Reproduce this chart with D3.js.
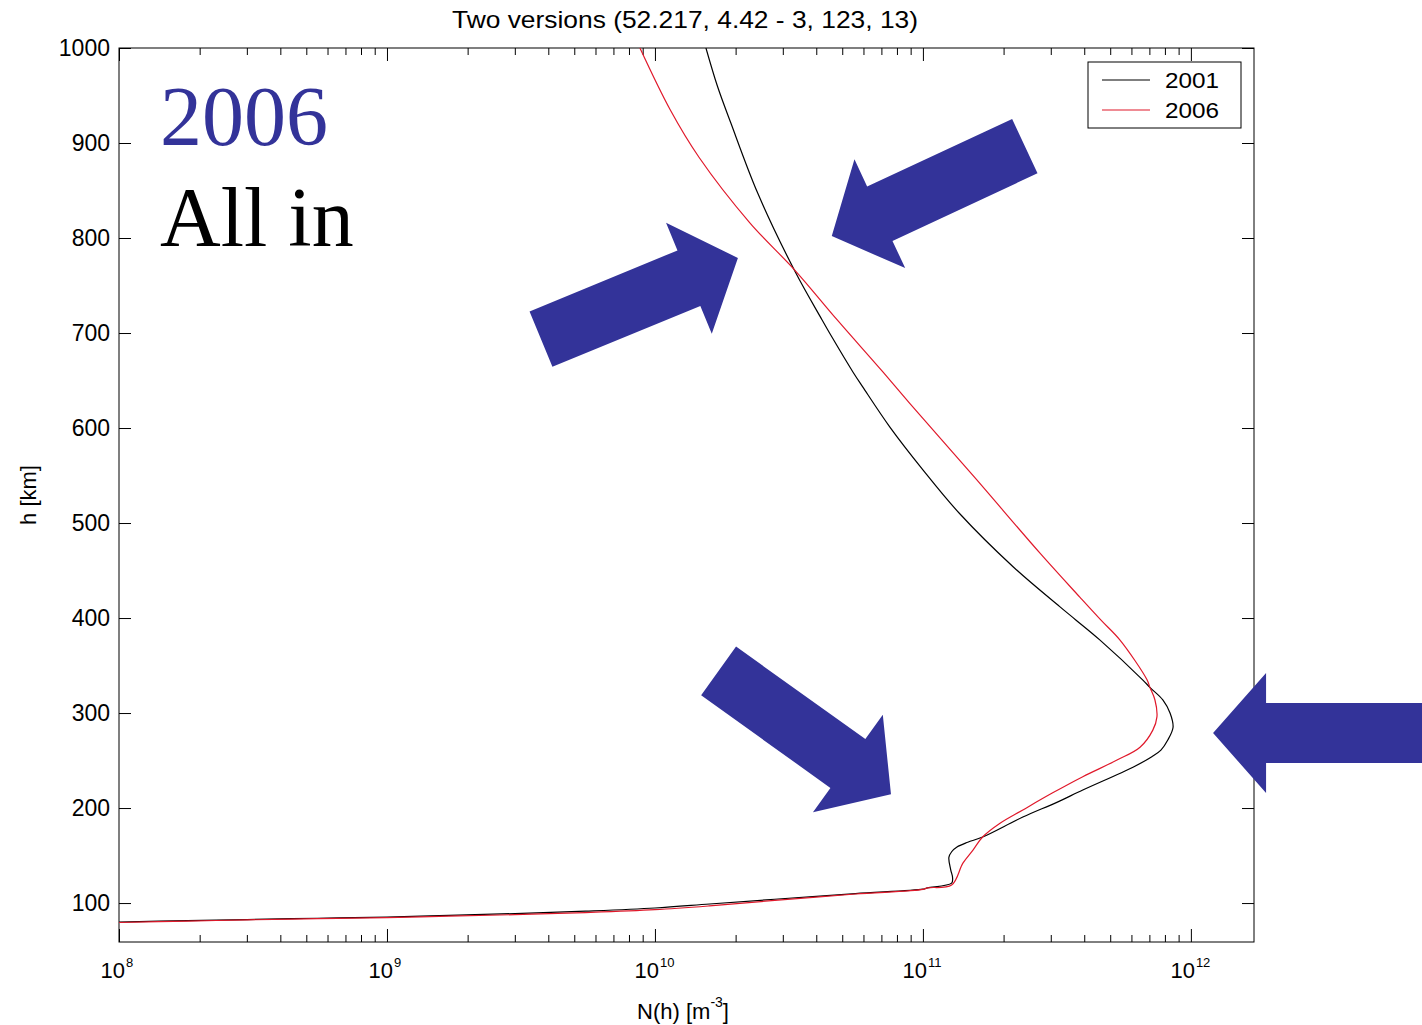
<!DOCTYPE html>
<html>
<head>
<meta charset="utf-8">
<script src="https://cdn.jsdelivr.net/npm/d3@7"></script>
<style>
  body { margin: 0; background: #fff; }
  svg { display: block; }
  text { font-family: "Liberation Sans", Arial, Helvetica, sans-serif; fill: #000; }
</style>
</head>
<body>
<svg id="chart" width="1422" height="1025"></svg>
<script>
// Electron density profiles N(h), two model versions.
// Heights in km, densities in m^-3.
const heights2001 = [80, 81.5, 82.6, 84, 85.2, 87, 88.9, 91.5, 94.8, 99, 104, 110, 114.6, 116, 121, 127, 135, 148, 154, 159, 164, 169.5, 190.5, 206, 219, 243, 254, 261, 271.6, 285, 300, 313.7, 327, 334.7, 377, 398, 412, 454, 510, 556, 601, 643, 659, 696, 714, 765, 847, 921, 960, 1000];
const density2001 = [1.0e8, 1.8e8, 3.0e8, 5.5e8, 1.0e9, 1.7e9, 3.0e9, 5.5e9, 1.0e10, 1.6e10, 2.8e10, 5.6e10, 1.0e11, 1.04e11, 1.28e11, 1.29e11, 1.27e11, 1.25e11, 1.28e11, 1.34e11, 1.47e11, 1.67e11, 2.36e11, 3.16e11, 3.95e11, 6.08e11, 7.15e11, 7.73e11, 8.2e11, 8.58e11, 8.36e11, 7.87e11, 7.03e11, 6.62e11, 4.57e11, 3.72e11, 3.24e11, 2.17e11, 1.37e11, 1.0e11, 7.53e10, 5.97e10, 5.48e10, 4.57e10, 4.2e10, 3.33e10, 2.42e10, 1.92e10, 1.71e10, 1.55e10];

const heights2006 = [79.5, 81, 82.3, 83.5, 84.6, 86.2, 87.8, 90, 93, 97, 102.8, 109.5, 114.3, 116, 119, 142, 156, 169.5, 184, 198, 216, 233, 250.5, 264, 282, 296, 314, 327, 335, 377, 398, 422, 468, 548, 626, 659, 714, 766, 816, 885, 935, 1000];
const density2006 = [1.0e8, 1.8e8, 3.0e8, 5.5e8, 1.0e9, 1.7e9, 3.0e9, 5.5e9, 1.0e10, 1.6e10, 2.8e10, 5.6e10, 1.0e11, 1.04e11, 1.28e11, 1.41e11, 1.54e11, 1.67e11, 1.94e11, 2.36e11, 3.05e11, 3.95e11, 5.30e11, 6.46e11, 7.21e11, 7.47e11, 7.34e11, 7.03e11, 6.86e11, 5.43e11, 4.61e11, 3.85e11, 2.74e11, 1.56e11, 8.93e10, 7.09e10, 4.78e10, 3.33e10, 2.26e10, 1.46e10, 1.14e10, 8.79e9];

const seriesNames = ["2001", "2006"];
const seriesColors = ["#000000", "#e0182a"];

const xDecades = [8, 9, 10, 11, 12];
const yTickValues = [100, 200, 300, 400, 500, 600, 700, 800, 900, 1000];

const titleText = "Two versions (52.217, 4.42 - 3, 123, 13)";
const overlayLines = ["2006", "All in"];
const overlayColors = ["#333399", "#000000"];

// Highlight arrows: tip position in data units, pointing angle (deg, screen), length in px
const arrowTipDensity = [4.57e10, 2.04e10, 7.6e10, 1.21e12];
const arrowTipHeight = [802, 779, 214.4, 279];
const arrowAngle = [155, -22.4, 35.6, 180];
const arrowLength = [213, 213, 212, 270];

// ---------------------------------------------------------------
const W = 1422, H = 1025;
const margin = { left: 119, top: 48, right: 168, bottom: 83 };
const iw = W - margin.left - margin.right;
const ih = H - margin.top - margin.bottom;

const svg = d3.select("#chart");
const g = svg.append("g").attr("transform", `translate(${margin.left},${margin.top})`);

const x = d3.scaleLog().domain([1e8, 1.72e12]).range([0, iw]);
const y = d3.scaleLinear().domain([59, 1000]).range([ih, 0]);

// tick values for the log axis
const majorTicks = xDecades.map(p => Math.pow(10, p));
const minorTicks = [];
xDecades.forEach(p => {
  for (let m = 2; m <= 9; m++) {
    const v = m * Math.pow(10, p);
    if (v <= x.domain()[1]) minorTicks.push(v);
  }
});

function styleAxis(sel) {
  sel.select(".domain").remove();
  sel.selectAll(".tick line").attr("stroke", "#000").attr("stroke-width", 1);
  sel.selectAll(".tick text").remove();
}

// bottom & top axes (ticks pointing inward)
g.append("g").attr("transform", `translate(0,${ih})`)
  .call(d3.axisBottom(x).tickValues(majorTicks).tickSize(-13).tickFormat(""))
  .call(styleAxis);
g.append("g").attr("transform", `translate(0,${ih})`)
  .call(d3.axisBottom(x).tickValues(minorTicks).tickSize(-7).tickFormat(""))
  .call(styleAxis);
g.append("g")
  .call(d3.axisTop(x).tickValues(majorTicks).tickSize(-13).tickFormat(""))
  .call(styleAxis);
g.append("g")
  .call(d3.axisTop(x).tickValues(minorTicks).tickSize(-7).tickFormat(""))
  .call(styleAxis);

// left & right axes
g.append("g")
  .call(d3.axisLeft(y).tickValues(yTickValues).tickSize(-12).tickFormat(""))
  .call(styleAxis);
g.append("g").attr("transform", `translate(${iw},0)`)
  .call(d3.axisRight(y).tickValues(yTickValues).tickSize(-12).tickFormat(""))
  .call(styleAxis);

// frame
g.append("rect").attr("width", iw).attr("height", ih)
  .attr("fill", "none").attr("stroke", "#000").attr("stroke-width", 1);

// y tick labels
g.selectAll("text.ylab").data(yTickValues).join("text")
  .attr("class", "ylab")
  .attr("x", -9).attr("y", d => y(d)).attr("dy", "0.36em")
  .attr("text-anchor", "end")
  .style("font-size", "23px")
  .text(d => d);

// x tick labels 10^p
const xl = g.selectAll("g.xlab").data(xDecades).join("g")
  .attr("class", "xlab")
  .attr("transform", p => `translate(${x(Math.pow(10, p))},${ih + 36})`);
xl.append("text")
  .attr("text-anchor", "end").attr("x", p => p >= 10 ? 4 : 6)
  .style("font-size", "22px").text("10");
xl.append("text")
  .attr("text-anchor", "start").attr("x", p => p >= 10 ? 5 : 7).attr("y", -11)
  .style("font-size", "13px").text(p => p);

// axis titles
const xt = svg.append("text")
  .attr("x", 683).attr("y", 1019).attr("text-anchor", "middle")
  .style("font-size", "22px");
xt.append("tspan").text("N(h) [m");
xt.append("tspan").attr("dy", -12).style("font-size", "14px").text("-3");
xt.append("tspan").attr("dy", 12).text("]");

svg.append("text")
  .attr("transform", "translate(36,495) rotate(-90)")
  .attr("text-anchor", "middle")
  .style("font-size", "22px")
  .text("h [km]");

// title
svg.append("text")
  .attr("x", 685).attr("y", 28).attr("text-anchor", "middle")
  .style("font-size", "24px")
  .attr("textLength", 466).attr("lengthAdjust", "spacingAndGlyphs")
  .text(titleText);

// profiles
g.append("clipPath").attr("id", "plotClip")
  .append("rect").attr("width", iw).attr("height", ih);

const series = [
  { name: seriesNames[0], color: seriesColors[0], h: heights2001, n: density2001 },
  { name: seriesNames[1], color: seriesColors[1], h: heights2006, n: density2006 }
];

const line = d3.line()
  .x(d => x(d[0])).y(d => y(d[1]))
  .curve(d3.curveCatmullRom.alpha(0.5));

g.append("g").attr("clip-path", "url(#plotClip)")
  .selectAll("path.profile").data(series).join("path")
  .attr("class", "profile")
  .attr("fill", "none")
  .attr("stroke", d => d.color)
  .attr("stroke-width", 1.2)
  .attr("d", d => line(d.n.map((v, i) => [v, d.h[i]])));

// legend
const lg = g.append("g").attr("transform", `translate(${iw - 166},14)`);
lg.append("rect").attr("width", 153).attr("height", 66)
  .attr("fill", "#fff").attr("stroke", "#000").attr("stroke-width", 1);
series.forEach((s, i) => {
  const yy = 18 + i * 30;
  lg.append("line").attr("x1", 14).attr("x2", 62).attr("y1", yy).attr("y2", yy)
    .attr("stroke", s.color).attr("stroke-width", 1.2);
  lg.append("text").attr("x", 77).attr("y", yy).attr("dy", "0.36em")
    .style("font-size", "22px")
    .attr("textLength", 54).attr("lengthAdjust", "spacingAndGlyphs")
    .text(s.name);
});

// overlay caption
svg.selectAll("text.caption").data(overlayLines).join("text")
  .attr("class", "caption")
  .attr("x", 160).attr("y", (d, i) => 145 + i * 101)
  .style("font-family", "'Liberation Serif', 'Times New Roman', serif")
  .style("font-size", "84px")
  .style("fill", (d, i) => overlayColors[i])
  .text(d => d);

// highlight arrows
function arrowPoints(tx, ty, angleDeg, len) {
  const shaftW = 60, headW = 120, headL = 53;
  const a = angleDeg * Math.PI / 180;
  const ux = Math.cos(a), uy = Math.sin(a);
  const px = -uy, py = ux;
  const bx = tx - ux * headL, by = ty - uy * headL;
  const ex = tx - ux * len, ey = ty - uy * len;
  return [
    [tx, ty],
    [bx + px * headW / 2, by + py * headW / 2],
    [bx + px * shaftW / 2, by + py * shaftW / 2],
    [ex + px * shaftW / 2, ey + py * shaftW / 2],
    [ex - px * shaftW / 2, ey - py * shaftW / 2],
    [bx - px * shaftW / 2, by - py * shaftW / 2],
    [bx - px * headW / 2, by - py * headW / 2]
  ];
}

const arrows = arrowTipDensity.map((n, i) => ({
  pts: arrowPoints(x(n), y(arrowTipHeight[i]), arrowAngle[i], arrowLength[i])
}));

g.selectAll("path.arrow").data(arrows).join("path")
  .attr("class", "arrow")
  .attr("fill", "#333399")
  .attr("d", d => "M" + d.pts.map(p => p.join(",")).join("L") + "Z");
</script>
</body>
</html>
